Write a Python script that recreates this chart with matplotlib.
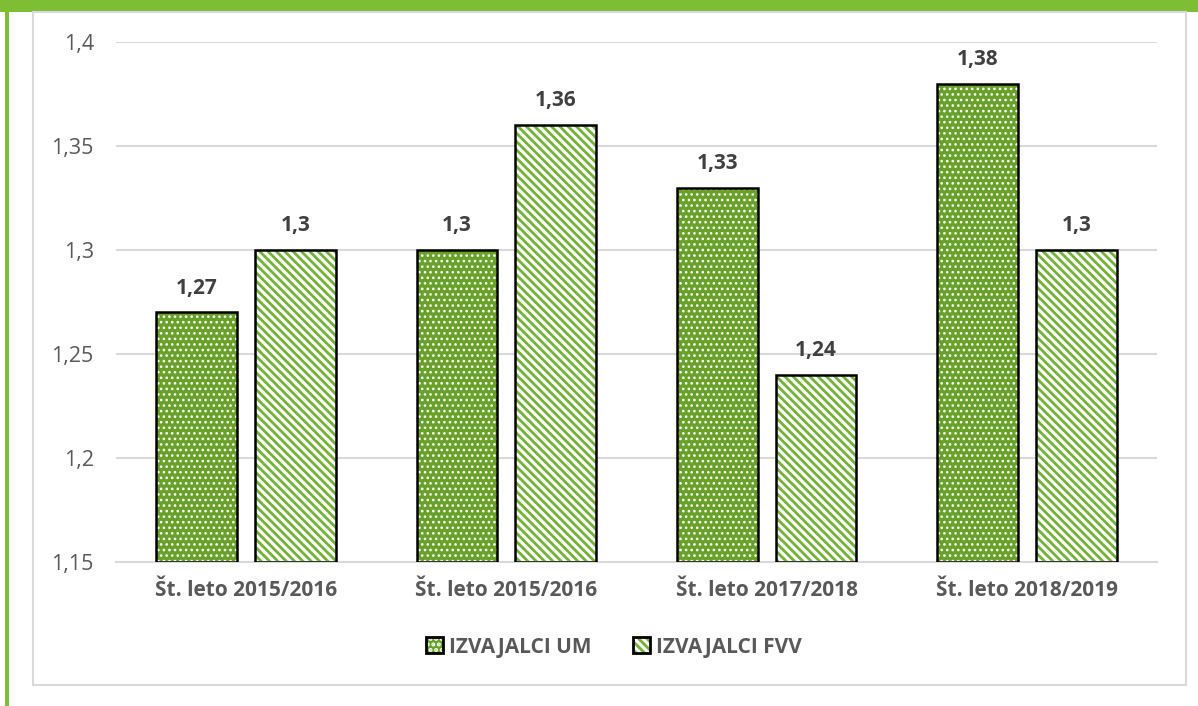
import matplotlib
matplotlib.use("Agg")
import matplotlib.pyplot as plt
import numpy as np
from matplotlib.patches import Rectangle, Patch
from matplotlib.legend_handler import HandlerTuple
from matplotlib.ticker import FuncFormatter, MultipleLocator

categories = ["Št. leto 2015/2016", "Št. leto 2015/2016", "Št. leto 2017/2018", "Št. leto 2018/2019"]
series_um = [1.27, 1.30, 1.33, 1.38]
series_fvv = [1.30, 1.36, 1.24, 1.30]
series_names = ["IZVAJALCI UM", "IZVAJALCI FVV"]

plt.rcParams['font.family'] = ['Open Sans', 'DejaVu Sans']
plt.rcParams['hatch.linewidth'] = 2.0

GREEN = "#68A128"
STRIPE = "#72B236"
TXT = "#595959"
LBL = "#404040"
DOT_LW = 1.1
STRIPE_LW = 2.0

fig = plt.figure(figsize=(11.98, 7.06), dpi=100)

# decorations: top green band, left green stripe, outer frame
fig.patches.append(Rectangle((0, 1 - 12/706), 1, 12/706, transform=fig.transFigure,
                             facecolor="#7DBE34", edgecolor="none", zorder=-3))
fig.patches.append(Rectangle((5/1198, 0), 4/1198, 1, transform=fig.transFigure,
                             facecolor="#7DBE34", edgecolor="none", zorder=-3))
fig.patches.append(Rectangle((33/1198, 1 - 685/706), (1186-33)/1198, (685-12)/706,
                             transform=fig.transFigure, facecolor="white",
                             edgecolor="#D9D9D9", linewidth=1.5, zorder=-2))

ax = fig.add_axes([116/1198, 1 - 562/706, (1157-116)/1198, (562-42)/706])
ax.set_facecolor("none")
ax.set_zorder(1)

x = np.arange(len(categories))
w = 0.31
off = 0.19
base = 1.15

h1 = [v - base for v in series_um]
h2 = [v - base for v in series_fvv]


def set_hlw(patches, lw):
    for p in patches:
        if hasattr(p, "set_hatch_linewidth"):
            p.set_hatch_linewidth(lw)


bars_um = ax.bar(x - off, h1, w, bottom=base, color=GREEN, edgecolor="white",
                 linewidth=0, hatch="...", zorder=2)
set_hlw(bars_um, DOT_LW)
ax.bar(x - off, h1, w, bottom=base, fill=False, edgecolor="black",
       linewidth=1.8, zorder=3)
bars_fvv = ax.bar(x + off, h2, w, bottom=base, color="white", edgecolor=STRIPE,
                  linewidth=0, hatch="\\\\\\\\", zorder=2)
set_hlw(bars_fvv, STRIPE_LW)
ax.bar(x + off, h2, w, bottom=base, fill=False, edgecolor="black",
       linewidth=1.8, zorder=3)

def fmt(v):
    s = ("%.2f" % v).rstrip("0").rstrip(".")
    return s.replace(".", ",")

for xi, v in zip(x - off, series_um):
    ax.annotate(fmt(v), (xi, v), xytext=(0, 10), textcoords="offset points",
                ha="center", va="bottom", fontsize=15, fontweight="bold", color=LBL)
for xi, v in zip(x + off, series_fvv):
    ax.annotate(fmt(v), (xi, v), xytext=(0, 10), textcoords="offset points",
                ha="center", va="bottom", fontsize=15, fontweight="bold", color=LBL)

ax.set_ylim(1.15, 1.4)
ax.set_xlim(-0.5, 3.5)
ax.yaxis.set_major_locator(MultipleLocator(0.05))
ax.yaxis.set_major_formatter(FuncFormatter(lambda v, p: fmt(round(v, 2))))
ax.grid(axis="y", color="#D9D9D9", linewidth=1.5, zorder=0)
ax.set_axisbelow(True)
for s in ["top", "right", "left"]:
    ax.spines[s].set_visible(False)
ax.spines["bottom"].set_color("#D9D9D9")
ax.spines["bottom"].set_linewidth(1.5)
ax.tick_params(axis="y", length=0, pad=16, labelsize=15.5, labelcolor=TXT)
ax.tick_params(axis="x", length=0, pad=13, labelsize=15, labelcolor=TXT)
ax.set_xticks(x)
ax.set_xticklabels(categories, fontweight="bold")

# legend
p_um = Patch(facecolor=GREEN, edgecolor="white", linewidth=0, hatch="...")
p_fvv = Patch(facecolor="white", edgecolor=STRIPE, linewidth=0, hatch="\\\\\\\\")
h_um = (p_um, Patch(fill=False, edgecolor="black", linewidth=2.0))
h_fvv = (p_fvv, Patch(fill=False, edgecolor="black", linewidth=2.0))
leg = fig.legend([h_um, h_fvv], series_names, loc="center",
                 bbox_to_anchor=(614/1198, 1 - 647/706), ncol=2, frameon=False,
                 handler_map={tuple: HandlerTuple(ndivide=1, pad=0)},
                 handlelength=0.8, handleheight=0.8, handletextpad=0.3,
                 columnspacing=2.0, prop={"size": 15, "weight": "bold"})
for t in leg.get_texts():
    t.set_color(TXT)

fig.savefig("out.png", dpi=100)
